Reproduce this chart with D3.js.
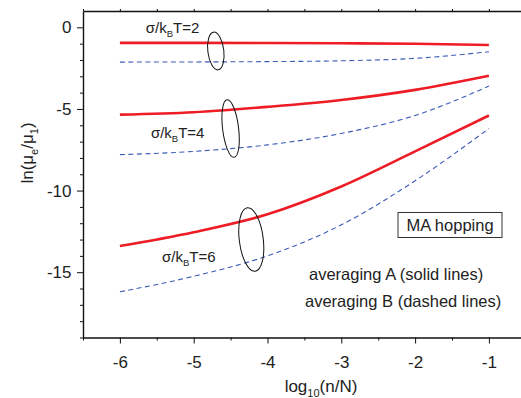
<!DOCTYPE html>
<html>
<head>
<meta charset="utf-8">
<script src="https://cdn.jsdelivr.net/npm/d3@7"></script>
<style>
  body { margin: 0; background: #fff; }
  text { font-family: "Liberation Sans", Arial, sans-serif; fill: #222; }
</style>
</head>
<body>
<svg width="521" height="398"></svg>
<script>
// log10(n/N) sample points
const logn = [-6, -5, -4, -3, -2, -1];

// ln(mu_e/mu_1), averaging A (solid) and B (dashed)
const solid2 = [-0.95, -0.95, -0.96, -0.98, -1.01, -1.08];
const dash2 = [-2.13, -2.12, -2.1, -2.05, -1.9, -1.5];
const solid4 = [-5.35, -5.2, -4.87, -4.45, -3.83, -2.97];
const dash4 = [-7.8, -7.6, -7.2, -6.5, -5.4, -3.6];
const solid6 = [-13.4, -12.55, -11.45, -9.75, -7.6, -5.4];
const dash6 = [-16.2, -15.25, -14.0, -12.1, -9.4, -6.2];

const xTicks = [-6, -5, -4, -3, -2, -1];
const yTicks = [0, -5, -10, -15];

// sigma labels and the ellipses grouping each pair
const sigmaLabels = [
  { s: "2", x: -5.65, y: -0.35 },
  { s: "4", x: -5.58, y: -6.79 },
  { s: "6", x: -5.43, y: -14.38 }
];
const ellipses = [
  { x: -4.7, y: -1.45, rx: 8, ry: 19 },
  { x: -4.5, y: -6.2, rx: 8, ry: 29 },
  { x: -4.22, y: -13.0, rx: 12, ry: 32 }
];

const svg = d3.select("svg");
const mLeft = 83, mTop = 11, mBottom = 337.5;

const x = d3.scaleLinear().domain([-6.5, -0.5]).range([mLeft, mLeft + 6 * 73.8]);
const y = d3.scaleLinear().domain([1, -19]).range([mTop, mBottom]);

// axes
const xAxis = d3.axisBottom(x).tickValues(xTicks).tickFormat(d3.format("d")).tickSize(6).tickSizeOuter(0);
const gx = svg.append("g").attr("transform", `translate(0,${mBottom})`).call(xAxis);
gx.selectAll("text").attr("font-size", 17).attr("dy", "1.25em");
gx.selectAll(".tick text").text(d => d < 0 ? "-" + Math.abs(d) : d);

svg.append("g").attr("transform", `translate(0,${mBottom})`)
  .call(d3.axisBottom(x).tickValues(d3.range(-6.5, -0.4, 1)).tickSize(3).tickFormat("").tickSizeOuter(0))
  .select(".domain").remove();

const yAxis = d3.axisLeft(y).tickValues(yTicks).tickSize(6).tickSizeOuter(0);
const gy = svg.append("g").attr("transform", `translate(${mLeft},0)`).call(yAxis);
gy.selectAll("text").attr("font-size", 17).attr("dx", "-0.15em");
gy.selectAll(".tick text").text(d => d < 0 ? "-" + Math.abs(d) : d);

svg.append("g").attr("transform", `translate(${mLeft},0)`)
  .call(d3.axisLeft(y).tickValues(d3.range(-19, 1, 1).filter(v => v % 5 !== 0)).tickSize(3).tickFormat("").tickSizeOuter(0))
  .select(".domain").remove();

// top frame
svg.append("g").attr("transform", `translate(0,${mTop})`)
  .call(d3.axisTop(x).tickValues(d3.range(-6.5, -0.4, 0.5)).tickSize(2).tickFormat("").tickSizeOuter(0));

svg.selectAll(".domain").attr("stroke", "#111").attr("stroke-width", 1.4);
svg.selectAll(".tick line").attr("stroke", "#111").attr("stroke-width", 1);

// curves
const line = d3.line().x((d, i) => x(logn[i])).y(d => y(d)).curve(d3.curveMonotoneX);

[dash2, dash4, dash6].forEach(s => {
  svg.append("path").attr("d", line(s)).attr("fill", "none")
    .attr("stroke", "#3b5cb8").attr("stroke-width", 1.1).attr("stroke-dasharray", "5,3.5");
});
[solid2, solid4, solid6].forEach(s => {
  svg.append("path").attr("d", line(s)).attr("fill", "none")
    .attr("stroke", "#ee1c25").attr("stroke-width", 2.6);
});

// ellipses
ellipses.forEach(e => {
  svg.append("ellipse")
    .attr("transform", `translate(${x(e.x)},${y(e.y)}) rotate(-7)`)
    .attr("rx", e.rx).attr("ry", e.ry)
    .attr("fill", "none").attr("stroke", "#111").attr("stroke-width", 1);
});

// sigma labels
sigmaLabels.forEach(l => {
  const t = svg.append("text").attr("x", x(l.x)).attr("y", y(l.y)).attr("font-size", 15);
  t.append("tspan").text("\u03c3/k");
  t.append("tspan").attr("font-size", 9.5).attr("dy", 4).text("B");
  t.append("tspan").attr("dy", -4).text("T=" + l.s);
});

// MA hopping box
svg.append("rect").attr("x", 398).attr("y", 212.5).attr("width", 104).attr("height", 25)
  .attr("fill", "#fff").attr("stroke", "#333").attr("stroke-width", 1);
svg.append("text").attr("x", 450).attr("y", 231).attr("text-anchor", "middle")
  .attr("font-size", 16.5).text("MA hopping");

svg.append("text").attr("x", 309).attr("y", 280).attr("font-size", 16.5).text("averaging A (solid lines)");
svg.append("text").attr("x", 305).attr("y", 307).attr("font-size", 16.5).text("averaging B (dashed lines)");

// axis titles
const xl = svg.append("text").attr("x", 321).attr("y", 392).attr("text-anchor", "middle").attr("font-size", 17);
xl.append("tspan").text("log");
xl.append("tspan").attr("font-size", 11).attr("dy", 5).text("10");
xl.append("tspan").attr("dy", -5).text("(n/N)");

const yl = svg.append("text").attr("transform", "translate(33,153) rotate(-90)")
  .attr("text-anchor", "middle").attr("font-size", 17);
yl.append("tspan").text("ln(\u03bc");
yl.append("tspan").attr("font-size", 11).attr("dy", 5).text("e");
yl.append("tspan").attr("dy", -5).text("/\u03bc");
yl.append("tspan").attr("font-size", 11).attr("dy", 5).text("1");
yl.append("tspan").attr("dy", -5).text(")");
</script>
</body>
</html>
